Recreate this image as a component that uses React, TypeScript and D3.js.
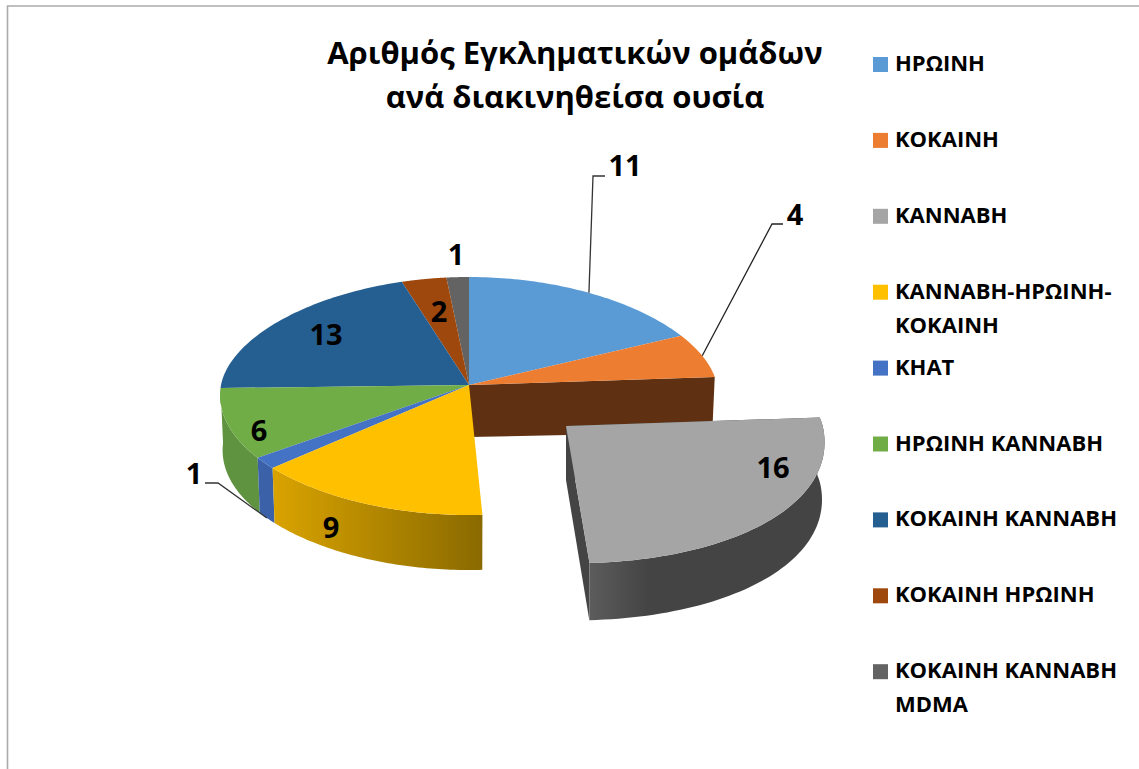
import React from "react";
import * as d3 from "d3";

const categories = ["ΗΡΩΙΝΗ", "ΚΟΚΑΙΝΗ", "ΚΑΝΝΑΒΗ", "ΚΑΝΝΑΒΗ-ΗΡΩΙΝΗ-ΚΟΚΑΙΝΗ", "ΚΗΑΤ", "ΗΡΩΙΝΗ ΚΑΝΝΑΒΗ", "ΚΟΚΑΙΝΗ ΚΑΝΝΑΒΗ", "ΚΟΚΑΙΝΗ ΗΡΩΙΝΗ", "ΚΟΚΑΙΝΗ ΚΑΝΝΑΒΗ MDMA"];
const values = [11, 4, 16, 9, 1, 6, 13, 2, 1];
const colors = ["#5B9BD5", "#ED7D31", "#A5A5A5", "#FFC000", "#4472C4", "#70AD47", "#255E91", "#9E480E", "#636363"];
const legendLines = [["ΗΡΩΙΝΗ"], ["ΚΟΚΑΙΝΗ"], ["ΚΑΝΝΑΒΗ"], ["ΚΑΝΝΑΒΗ-ΗΡΩΙΝΗ-", "ΚΟΚΑΙΝΗ"], ["ΚΗΑΤ"], ["ΗΡΩΙΝΗ ΚΑΝΝΑΒΗ"], ["ΚΟΚΑΙΝΗ ΚΑΝΝΑΒΗ"], ["ΚΟΚΑΙΝΗ ΗΡΩΙΝΗ"], ["ΚΟΚΑΙΝΗ ΚΑΝΝΑΒΗ", "MDMA"]];
const titleLines = ["Αριθμός Εγκληματικών ομάδων", "ανά διακινηθείσα ουσία"];
const labelPos: [number, number][] = [[625, 166], [795, 215], [773, 468], [331, 528], [194, 474], [259, 431], [326, 335], [439, 312], [456, 255]];

const FONT = "'Open Sans', sans-serif";
const MAIN = { cx: 469, cy: 385, scale: 1, scaleY: 1, skew: 0, pinch: 8 };
const EXPLODED = { cx: 566, cy: 426, scale: 1.035, scaleY: 1.055, skew: 0.07, pinch: 0 };
type Frame = typeof MAIN;

function project(a: number, r: number, f: Frame, low: boolean): [number, number] {
  const s = Math.sin(a), c = Math.cos(a);
  const rx = 248 * (1 - 0.085 * c) * f.scale * (low ? 0.99 : 1);
  const ry = (c >= 0 ? 108 : 130 - f.pinch * s * s) * f.scaleY;
  const dy = -ry * c * r;
  const depth = low ? (52 + 3 * r) * (f === EXPLODED ? 1.04 : 1) : 0;
  return [f.cx + rx * s * r + f.skew * dy, f.cy + dy + depth];
}

const line = d3.line<[number, number]>().curve(d3.curveLinear);
const rim = (a0: number, a1: number, f: Frame, low: boolean) =>
  d3.range(0, 61).map((i) => project(a0 + ((a1 - a0) * i) / 60, 1, f, low));

const topPath = (a0: number, a1: number, f: Frame) =>
  line([[f.cx, f.cy], ...rim(a0, a1, f, false)])! + "Z";
const sidePath = (a0: number, a1: number, f: Frame) =>
  line([...rim(a0, a1, f, false), ...rim(a0, a1, f, true).reverse()])! + "Z";
const wallPath = (a: number, f: Frame) =>
  line([project(a, 0, f, false), project(a, 1, f, false), project(a, 1, f, true), project(a, 0, f, true)])! + "Z";

export default function App() {
  const arcs = d3.pie<number>().sort(null)(values);
  const mid = (i: number) => (arcs[i].startAngle + arcs[i].endAngle) / 2;
  const order = [0, 1, 8, 7, 6, 5, 4, 3];
  const a4 = project(mid(4), 1, MAIN, true);
  const a0 = project(mid(0), 1, MAIN, false);
  const a1 = project(mid(1), 1, MAIN, false);
  return (
    <svg width={1139} height={769} style={{ position: "fixed", left: 0, top: 0, background: "#fff" }} fontFamily={FONT}>
      <defs>
        <linearGradient id="gy"><stop offset="0" stopColor="#D9A300" /><stop offset="1" stopColor="#8A6A00" /></linearGradient>
        <linearGradient id="gg"><stop offset="0" stopColor="#5C5C5C" /><stop offset="0.25" stopColor="#444444" /><stop offset="1" stopColor="#444444" /></linearGradient>
      </defs>
      <path d="M7.5 769V6H1139" fill="none" stroke="#ABABAB" strokeWidth={1.6} />
      <g fontWeight={700} fontSize={31} textAnchor="middle" fill="#000">
        {titleLines.map((t, i) => <text key={t} x={575} y={64 + i * 44}>{t}</text>)}
      </g>
      <path d={wallPath(arcs[1].endAngle, MAIN)} fill="#5F3112" />
      <path d={sidePath(arcs[5].startAngle, arcs[5].endAngle, MAIN)} fill="#5F9340" />
      <path d={sidePath(arcs[4].startAngle, arcs[4].endAngle, MAIN)} fill="#3B62A8" />
      <path d={sidePath(arcs[3].startAngle, arcs[3].endAngle, MAIN)} fill="url(#gy)" />
      {order.map((i) => <path key={i} d={topPath(arcs[i].startAngle, arcs[i].endAngle, MAIN)} fill={colors[i]} />)}
      <path d={wallPath(arcs[2].endAngle, EXPLODED)} fill="#444444" />
      <path d={wallPath(arcs[2].startAngle, EXPLODED)} fill="#444444" />
      <path d={sidePath(arcs[2].startAngle, arcs[2].endAngle, EXPLODED)} fill="url(#gg)" />
      <path d={topPath(arcs[2].startAngle, arcs[2].endAngle, EXPLODED)} fill={colors[2]} />
      <path d={line([a0, [593, 176], [605, 176]])!} fill="none" stroke="#333" strokeWidth={1.3} />
      <path d={line([a1, [772, 224], [783, 224]])!} fill="none" stroke="#222" strokeWidth={1.3} />
      <path d={line([a4, [218, 483], [205, 483]])!} fill="none" stroke="#333" strokeWidth={1.3} />
      <g fontWeight={700} fontSize={29} textAnchor="middle" fill="#000">
        {values.map((v, i) => <text key={i} x={labelPos[i][0]} y={labelPos[i][1]} dy="0.36em">{v}</text>)}
      </g>
      <g fontWeight={700} fontSize={22} fill="#000">
        {categories.map((c, i) => (
          <g key={c}>
            <rect x={873} y={57 + i * 75.9} width={15} height={15} fill={colors[i]} />
            {legendLines[i].map((t, j) => <text key={t} x={895} y={71 + i * 75.9 + j * 34}>{t}</text>)}
          </g>
        ))}
      </g>
    </svg>
  );
}
